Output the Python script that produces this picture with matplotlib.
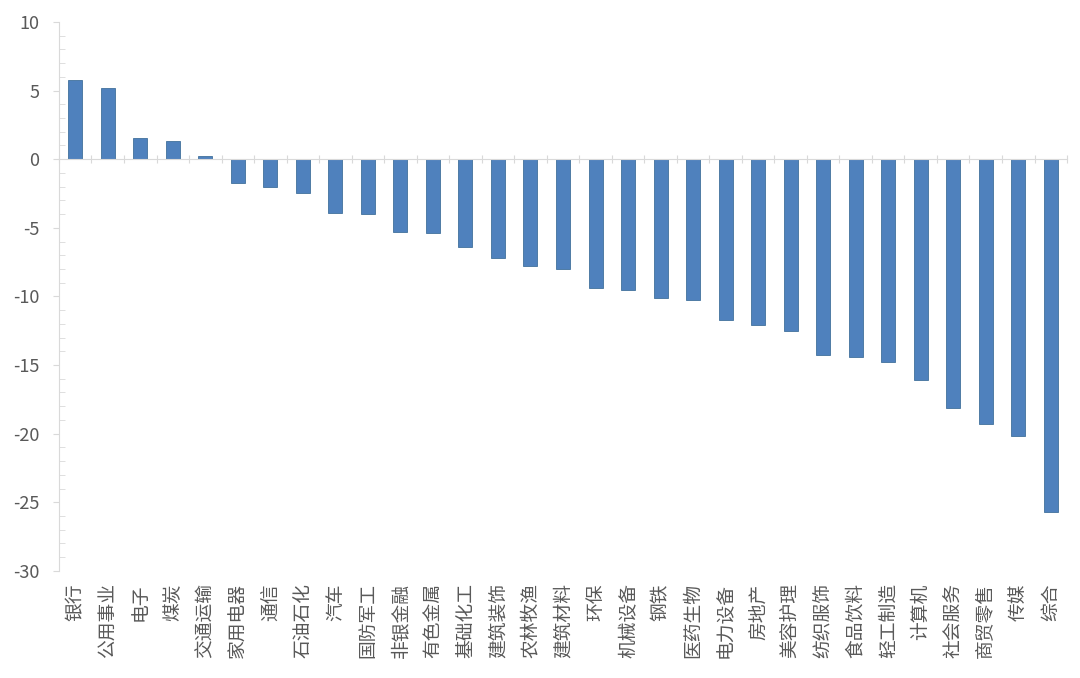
import matplotlib.pyplot as plt
import numpy as np

plt.rcParams['font.family'] = ['Noto Sans CJK SC', 'DejaVu Sans']
plt.rcParams['axes.unicode_minus'] = False

categories = ['银行', '公用事业', '电子', '煤炭', '交通运输', '家用电器', '通信', '石油石化',
              '汽车', '国防军工', '非银金融', '有色金属', '基础化工', '建筑装饰', '农林牧渔',
              '建筑材料', '环保', '机械设备', '钢铁', '医药生物', '电力设备', '房地产',
              '美容护理', '纺织服饰', '食品饮料', '轻工制造', '计算机', '社会服务',
              '商贸零售', '传媒', '综合']
values = [5.8, 5.2, 1.55, 1.35, 0.25, -1.7, -2.0, -2.45,
          -3.9, -4.0, -5.3, -5.4, -6.4, -7.2, -7.8,
          -8.0, -9.4, -9.5, -10.1, -10.25, -11.7, -12.1,
          -12.5, -14.25, -14.4, -14.75, -16.1, -18.1,
          -19.3, -20.15, -25.7]
y_ticks = [10, 5, 0, -5, -10, -15, -20, -25, -30]

text_color = '#595959'
axis_color = '#d9d9d9'

fig = plt.figure(figsize=(10.8, 6.78), dpi=100)
ax = fig.add_axes([0.0546, 0.158, 0.9334, 0.8096])

x = np.arange(len(categories))
ax.bar(x, values, width=0.43, color='#4f81bd', edgecolor='#41719c', linewidth=0.6, zorder=2)

ax.set_xlim(-0.5, len(categories) - 0.5)
ax.set_ylim(-30, 10)
ax.set_yticks(y_ticks)
ax.set_yticks(np.arange(-30, 11, 1), minor=True)
ax.tick_params(axis='y', which='major', length=4, color=axis_color, labelcolor=text_color,
               labelsize=13, pad=10)
ax.tick_params(axis='y', which='minor', length=4, direction='in', color=axis_color)

ax.set_xticks(x)
ax.set_xticklabels(categories, rotation=90, va='top', ha='center')
ax.tick_params(axis='x', length=0, labelcolor=text_color, labelsize=13.5, pad=9)

for side in ['top', 'right', 'bottom']:
    ax.spines[side].set_visible(False)
ax.spines['left'].set_color(axis_color)

# category axis drawn through zero
sec = ax.secondary_xaxis(0, transform=ax.transData)
sec.set_xticks(np.arange(-0.5, len(categories), 1))
sec.tick_params(axis='x', length=6, direction='inout', color=axis_color, labelbottom=False)
sec.spines['bottom'].set_color(axis_color)
sec.set_zorder(3)

fig.savefig('out.png', dpi=100)
